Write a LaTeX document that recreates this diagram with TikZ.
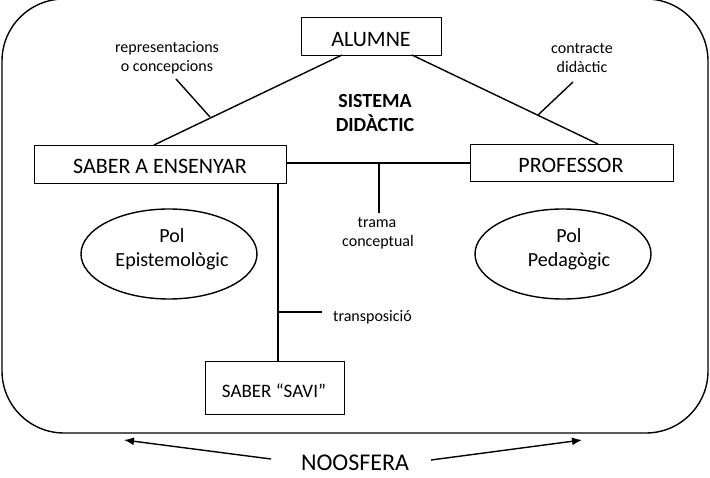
\documentclass[tikz,border=0pt]{standalone}
\usepackage{fontspec}
\setmainfont{Carlito}
\usetikzlibrary{arrows.meta,shapes.geometric,calc}
\begin{document}
\begin{tikzpicture}[x=1pt,y=-1pt,
  ln/.style={line width=1.4pt},
  boxnode/.style={draw,line width=1.4pt,inner sep=0pt,anchor=north west},
  big/.style={font=\fontsize{22}{26}\selectfont,anchor=base,inner sep=0pt},
  lbl/.style={font=\fontsize{16}{19}\selectfont,anchor=base,inner sep=0pt},
  poltxt/.style={font=\fontsize{20}{24}\selectfont,anchor=base,inner sep=0pt},
  ell/.style={draw,ellipse,line width=1.4pt,inner sep=0pt,minimum width=176pt,minimum height=90pt},
  arr/.style={line width=1.4pt,-{Latex[length=10pt,width=8pt]}}]
\useasboundingbox (0,0) rectangle (710,478);
% outer rounded frame
\draw[ln,rounded corners=62pt] (2,-1) rectangle (708,433);
% boxes
\node[boxnode,minimum width=140pt,minimum height=38pt] (alumne) at (301,17) {};
\node[big] (alumnet) at (371,47) {ALUMNE};
\node[boxnode,minimum width=252pt,minimum height=38pt] (saber) at (34,145) {};
\node[big] (sabert) at (160,174) {SABER A ENSENYAR};
\node[boxnode,minimum width=203pt,minimum height=37pt] (prof) at (470,144) {};
\node[big] (proft) at (571,173) {PROFESSOR};
\node[boxnode,minimum width=139pt,minimum height=53pt] (savi) at (205,361) {};
\node[font=\fontsize{19}{22}\selectfont,anchor=base,inner sep=0pt] (savit) at (274,398) {SABER “SAVI”};
% ellipses
\node[ell] (epis) at (169,254) {};
\node[poltxt] (epis1) at (172,243) {Pol};
\node[poltxt] (epis2) at (172,267) {Epistemològic};
\node[ell] (peda) at (563,254) {};
\node[poltxt] (peda1) at (569,243) {Pol};
\node[poltxt] (peda2) at (569,267) {Pedagògic};
% coordinates
\coordinate (aS) at (342,55);
\coordinate (sA) at (154,145);
\coordinate (aP) at (412,55);
\coordinate (pA) at (598,144);
\coordinate (sR) at (286,163);
\coordinate (pL) at (470,163);
\coordinate (tA) at (379,163);
\coordinate (tB) at (379,213);
\coordinate (vA) at (278,183);
\coordinate (vB) at (278,361);
\coordinate (trA) at (278,312);
\coordinate (trB) at (322,312);
\coordinate (rA) at (210,117);
\coordinate (rB) at (176,79);
\coordinate (cA) at (538,115);
\coordinate (cB) at (573,82);
% connectors
\draw[ln] (aS) -- (sA);
\draw[ln] (aP) -- (pA);
\draw[ln] (sR) -- (pL);
\draw[ln] (tA) -- (tB);
\draw[ln] (vA) -- (vB);
\draw[ln] (trA) -- (trB);
\draw[ln] (rA) -- (rB);
\draw[ln] (cA) -- (cB);
% labels
\node[lbl] (rep1) at (167,53) {representacions};
\node[lbl] (rep2) at (167,72) {o concepcions};
\node[lbl] (con1) at (582,54) {contracte};
\node[lbl] (con2) at (582,73) {didàctic};
\node[lbl] (tra1) at (377,228) {trama};
\node[lbl] (tra2) at (378,247) {conceptual};
\node[lbl,anchor=base west] (tp) at (333,322) {transposició};
\node[font=\bfseries\fontsize{20}{24}\selectfont,anchor=base,inner sep=0pt] (sis1) at (375,108) {SISTEMA};
\node[font=\bfseries\fontsize{20}{24}\selectfont,anchor=base,inner sep=0pt] (sis2) at (375,132) {DIDÀCTIC};
% noosfera
\node[font=\fontsize{24}{28}\selectfont,anchor=base,inner sep=0pt] (noo) at (355,470) {NOOSFERA};
\coordinate (nl) at (124,440);
\coordinate (nr) at (582,440);
\draw[arr] (271,459) -- (nl);
\draw[arr] (431,460) -- (nr);
\end{tikzpicture}
\end{document}
